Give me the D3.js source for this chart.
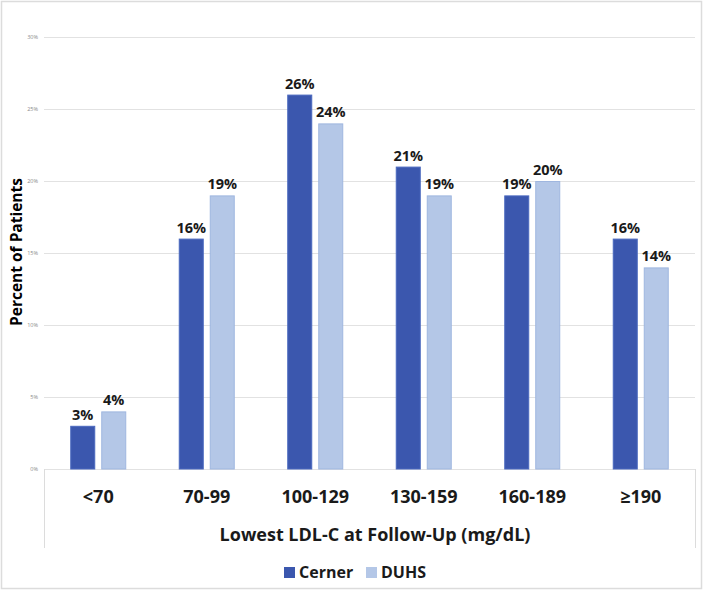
<!DOCTYPE html>
<html>
<head>
<meta charset="utf-8">
<script src="https://cdn.jsdelivr.net/npm/d3@7"></script>
<style>
  html, body { margin: 0; padding: 0; background: #fff; }
  svg { display: block; }
  text { font-family: "Open Sans", Lato, sans-serif; }
</style>
</head>
<body>
<svg id="chart" width="705" height="591"></svg>
<script>
const categories = ["<70", "70-99", "100-129", "130-159", "160-189", "\u2265190"];
const seriesNames = ["Cerner", "DUHS"];
const cerner = [3, 16, 26, 21, 19, 16];
const duhs = [4, 19, 24, 19, 20, 14];
const yTicks = [0, 5, 10, 15, 20, 25, 30];
const yTitle = "Percent of Patients";
const xTitle = "Lowest LDL-C at Follow-Up (mg/dL)";

(function () {
const colors = { Cerner: "#3B57AE", DUHS: "#B4C7E7" };
const strokes = { Cerner: "#4A68BE", DUHS: "#9FB6DF" };

const svg = d3.select("#chart");

// outer border
svg.append("rect").attr("x", 1.5).attr("y", 1.5).attr("width", 700).attr("height", 587)
  .attr("fill", "#fff").attr("stroke", "#dcdcdc").attr("stroke-width", 1.5);

const pLeft = 44, pRight = 695, pTop = 37, pBottom = 469;

const y = d3.scaleLinear().domain([0, 30]).range([pBottom, pTop]);
const x0 = d3.scaleBand().domain(categories).range([pLeft, pRight]).paddingInner(0).paddingOuter(0);
const half = 28;
const x1 = d3.scaleBand().domain(seriesNames)
  .range([x0.bandwidth() / 2 - half, x0.bandwidth() / 2 + half])
  .paddingInner(2 - 56 / 31).paddingOuter(0);

// gridlines
svg.append("g").selectAll("line").data(yTicks).join("line")
  .attr("x1", pLeft).attr("x2", pRight)
  .attr("y1", d => Math.round(y(d)) + 0.5).attr("y2", d => Math.round(y(d)) + 0.5)
  .attr("stroke", "#e2e2e2").attr("stroke-width", 1);

// y tick labels
svg.append("g").selectAll("text").data(yTicks).join("text")
  .attr("x", 38).attr("y", d => y(d) + 2)
  .attr("text-anchor", "end")
  .attr("font-size", 5.5).attr("fill", "#8a8a8a")
  .text(d => d + "%");

// category box vertical lines
[pLeft, pRight].forEach(xx => {
  svg.append("line").attr("x1", xx + 0.5).attr("x2", xx + 0.5)
    .attr("y1", pBottom).attr("y2", 548)
    .attr("stroke", "#dcdcdc").attr("stroke-width", 1);
});

const data = categories.map((c, i) => ({ cat: c, vals: [
  { s: "Cerner", v: cerner[i] }, { s: "DUHS", v: duhs[i] } ] }));

const groups = svg.append("g").selectAll("g").data(data).join("g")
  .attr("transform", d => `translate(${x0(d.cat)},0)`);

groups.selectAll("rect").data(d => d.vals).join("rect")
  .attr("x", d => x1(d.s) + 0.5)
  .attr("y", d => y(d.v) + 0.5)
  .attr("width", x1.bandwidth() - 1)
  .attr("height", d => y(0) - y(d.v) - 0.5)
  .attr("fill", d => colors[d.s])
  .attr("stroke", d => strokes[d.s]).attr("stroke-width", 1);

groups.selectAll("text").data(d => d.vals).join("text")
  .attr("x", d => x1(d.s) + x1.bandwidth() / 2)
  .attr("y", d => y(d.v) - 6)
  .attr("text-anchor", "middle")
  .attr("font-size", 14.5).attr("font-weight", "bold").attr("fill", "#1a1a1a")
  .text(d => d.v + "%");

// category labels
svg.append("g").selectAll("text").data(categories).join("text")
  .attr("x", d => x0(d) + x0.bandwidth() / 2)
  .attr("y", 503)
  .attr("text-anchor", "middle")
  .attr("font-size", 18).attr("font-weight", "bold").attr("fill", "#1a1a1a")
  .text(d => d);

// x title
svg.append("text").attr("x", 375).attr("y", 541)
  .attr("text-anchor", "middle")
  .attr("font-size", 18).attr("font-weight", "bold").attr("fill", "#1a1a1a")
  .text(xTitle);

// y title
svg.append("text")
  .attr("transform", "translate(22,252) rotate(-90)")
  .attr("text-anchor", "middle")
  .attr("font-size", 15.5).attr("font-weight", "bold").attr("fill", "#000")
  .text(yTitle);

// legend
const legend = svg.append("g");
const legendItems = [{ s: "Cerner", x: 284 }, { s: "DUHS", x: 366 }];
legendItems.forEach(it => {
  legend.append("rect").attr("x", it.x).attr("y", 567).attr("width", 11).attr("height", 11)
    .attr("fill", colors[it.s]);
  legend.append("text").attr("x", it.x + 15).attr("y", 578)
    .attr("font-size", 16).attr("font-weight", "bold").attr("fill", "#1a1a1a")
    .text(it.s);
});
})();
</script>
</body>
</html>
